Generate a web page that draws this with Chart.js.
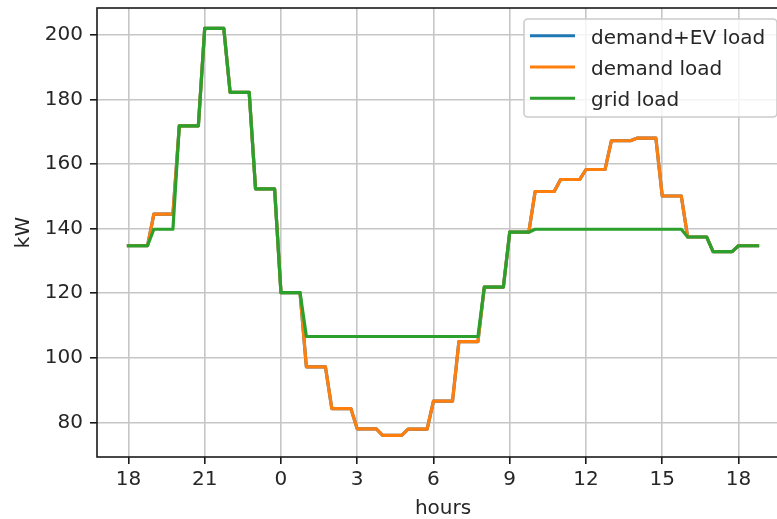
<!DOCTYPE html>
<html>
<head>
<meta charset="utf-8">
<script src="https://cdn.jsdelivr.net/npm/chart.js@4"></script>
<style>
  html, body { margin: 0; padding: 0; overflow: hidden; background: #fff; }
  canvas { display: block; }
</style>
</head>
<body>
<canvas id="loadChart" width="800" height="519"></canvas>
<script>
// start hour of each hourly value (18 = 18:00 first day, 42 = 18:00 next day)
const hours = [18, 19, 20, 21, 22, 23, 24, 25, 26, 27, 28, 29, 30, 31, 32, 33, 34, 35, 36, 37, 38, 39, 40, 41, 42];

const demandEvLoad = [134.7, 144.5, 171.8, 202.0, 182.2, 152.3, 120.2, 97.2, 84.3, 78.0, 76.0, 77.9, 86.6,
  105.0, 121.9, 138.9, 151.5, 155.2, 158.3, 167.2, 168.0, 150.1, 137.4, 132.9, 134.7];
const demandLoad = [134.7, 144.5, 171.8, 202.0, 182.2, 152.3, 120.2, 97.2, 84.3, 78.0, 76.0, 77.9, 86.6,
  105.0, 121.9, 138.9, 151.5, 155.2, 158.3, 167.2, 168.0, 150.1, 137.4, 132.9, 134.7];
const gridLoad = [134.7, 139.8, 171.8, 202.0, 182.2, 152.3, 120.2, 106.6, 106.6, 106.6, 106.6, 106.6, 106.6,
  106.6, 121.9, 138.9, 139.8, 139.8, 139.8, 139.8, 139.8, 139.8, 137.4, 132.9, 134.7];

const xTickHours = [18, 21, 24, 27, 30, 33, 36, 39, 42];
const xTickLabels = ['18', '21', '0', '3', '6', '9', '12', '15', '18'];
const yTicks = [80, 100, 120, 140, 160, 180, 200];

// each hourly value is held for 45 minutes, the last quarter hour ramps to the next one
function toPoints(values) {
  const pts = [];
  hours.forEach((h, i) => {
    pts.push({ x: h, y: values[i] });
    pts.push({ x: h + 0.75, y: values[i] });
  });
  return pts;
}

const FONT = 'DejaVu Sans';
const TEXT = '#262626';

// black frame round the plot, drawn over the lines like matplotlib spines
const framePlugin = {
  id: 'frame',
  afterDatasetsDraw(chart) {
    const { ctx, chartArea: a } = chart;
    ctx.save();
    ctx.strokeStyle = '#1a1a1a';
    ctx.lineWidth = 1.6;
    ctx.strokeRect(a.left, a.top, a.right - a.left, a.bottom - a.top);
    ctx.restore();
  }
};

// legend box in the upper right corner of the plot
const legendPlugin = {
  id: 'boxLegend',
  afterDraw(chart) {
    const ctx = chart.ctx;
    const bx = 524, by = 19, bw = 253, bh = 98, r = 4;
    ctx.save();
    ctx.beginPath();
    ctx.moveTo(bx + r, by);
    ctx.arcTo(bx + bw, by, bx + bw, by + bh, r);
    ctx.arcTo(bx + bw, by + bh, bx, by + bh, r);
    ctx.arcTo(bx, by + bh, bx, by, r);
    ctx.arcTo(bx, by, bx + bw, by, r);
    ctx.closePath();
    ctx.fillStyle = 'rgba(255,255,255,0.8)';
    ctx.fill();
    ctx.strokeStyle = '#cccccc';
    ctx.lineWidth = 1.6;
    ctx.stroke();

    const rows = [35.7, 67, 98.3];
    ctx.font = '20px "' + FONT + '"';
    ctx.textBaseline = 'alphabetic';
    ctx.textAlign = 'left';
    chart.data.datasets.forEach((ds, i) => {
      const y = rows[i];
      ctx.beginPath();
      ctx.moveTo(530, y);
      ctx.lineTo(575, y);
      ctx.strokeStyle = ds.borderColor;
      ctx.lineWidth = 3;
      ctx.stroke();
      ctx.fillStyle = TEXT;
      ctx.fillText(ds.label, 591, y + 7.8);
    });
    ctx.restore();
  }
};

new Chart(document.getElementById('loadChart'), {
  type: 'line',
  data: {
    datasets: [
      { label: 'demand+EV load', data: toPoints(demandEvLoad), borderColor: '#1f77b4', order: 3 },
      { label: 'demand load', data: toPoints(demandLoad), borderColor: '#ff7f0e', order: 2 },
      { label: 'grid load', data: toPoints(gridLoad), borderColor: '#2ca02c', order: 1 }
    ]
  },
  options: {
    responsive: false,
    animation: false,
    devicePixelRatio: 1,
    layout: { padding: { top: 8, right: 11, left: 0, bottom: 0 } },
    elements: {
      line: { borderWidth: 3.2, tension: 0, fill: false, borderJoinStyle: 'round', borderCapStyle: 'square' },
      point: { radius: 0, hoverRadius: 0 }
    },
    plugins: { legend: { display: false }, tooltip: { enabled: false } },
    scales: {
      x: {
        type: 'linear',
        min: 16.7625,
        max: 43.9875,
        afterBuildTicks: scale => { scale.ticks = xTickHours.map(v => ({ value: v })); },
        afterFit: scale => {
          scale.height = 62;
          scale.paddingLeft = 0;
          scale.paddingRight = 0;
        },
        ticks: {
          callback: (value, index) => xTickLabels[index],
          font: { family: FONT, size: 20 },
          color: TEXT,
          padding: 4,
          maxRotation: 0
        },
        grid: { color: '#c6c6c6', lineWidth: 1.6, tickLength: 7, tickColor: '#1a1a1a', tickWidth: 1.6 },
        border: { display: false },
        title: {
          display: true,
          text: 'hours',
          color: TEXT,
          font: { family: FONT, size: 20, lineHeight: 1 },
          padding: { top: 0, bottom: 0 }
        }
      },
      y: {
        min: 69.3,
        max: 208.3,
        afterBuildTicks: scale => { scale.ticks = yTicks.map(v => ({ value: v })); },
        afterFit: scale => {
          scale.width = 97;
          scale.paddingTop = 0;
          scale.paddingBottom = 0;
        },
        ticks: { font: { family: FONT, size: 20 }, color: TEXT, padding: 7 },
        grid: { color: '#c6c6c6', lineWidth: 1.6, tickLength: 7, tickColor: '#1a1a1a', tickWidth: 1.6 },
        border: { display: false },
        title: {
          display: true,
          text: 'kW',
          color: TEXT,
          font: { family: FONT, size: 20, lineHeight: 1 },
          padding: { top: 14, bottom: 0 }
        }
      }
    }
  },
  plugins: [framePlugin, legendPlugin]
});
</script>
</body>
</html>
